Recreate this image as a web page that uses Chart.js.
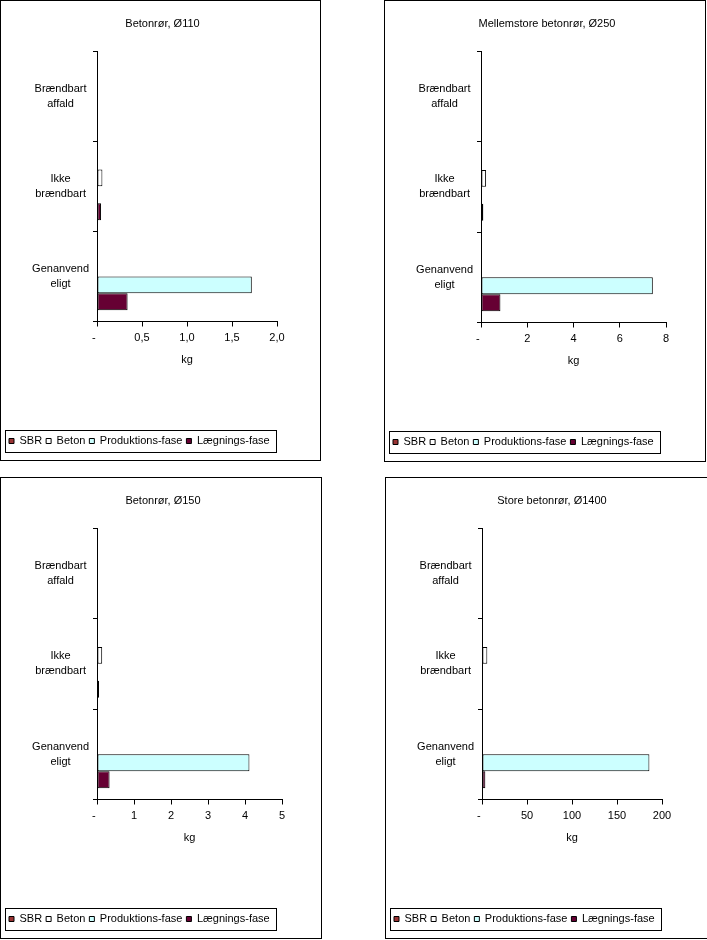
<!DOCTYPE html>
<html>
<head>
<meta charset="utf-8">
<script src="https://cdn.jsdelivr.net/npm/chart.js@4.4.1/dist/chart.umd.min.js"></script>
<style>
  body { margin:0; background:#fff; width:707px; height:940px; overflow:hidden; position:relative; }
  .panel { position:absolute; border:1px solid #000; box-sizing:border-box; background:#fff; }
  #p1 { left:0; top:0; width:321px; height:461px; }
  #p2 { left:384px; top:0; width:322px; height:462px; }
  #p3 { left:0; top:477px; width:322px; height:462px; }
  #p4 { left:385px; top:477px; width:330px; height:462px; }
  canvas { display:block; }
</style>
</head>
<body>
<div class="panel" id="p1"><canvas id="c1" width="319" height="459"></canvas></div>
<div class="panel" id="p2"><canvas id="c2" width="320" height="460"></canvas></div>
<div class="panel" id="p3"><canvas id="c3" width="320" height="460"></canvas></div>
<div class="panel" id="p4"><canvas id="c4" width="328" height="460"></canvas></div>
<script>
// categories and series
const categories = [['Brændbart','affald'], ['Ikke','brændbart'], ['Genanvend','eligt']];
const seriesNames = ['SBR', 'Beton', 'Produktions-fase', 'Lægnings-fase'];

// Betonrør, Ø110
const sbr110   = [0, 0, 0];
const beton110 = [0, 0.06, 0];
const prod110  = [0, 0, 1.72];
const laeg110  = [0, 0.045, 0.34];

// Mellemstore betonrør, Ø250
const sbr250   = [0, 0, 0];
const beton250 = [0, 0.22, 0];
const prod250  = [0, 0, 7.43];
const laeg250  = [0, 0.1, 0.84];

// Betonrør, Ø150
const sbr150   = [0, 0, 0];
const beton150 = [0, 0.14, 0];
const prod150  = [0, 0, 4.12];
const laeg150  = [0, 0.055, 0.34];

// Store betonrør, Ø1400
const sbr1400   = [0, 0, 0];
const beton1400 = [0, 5.9, 0];
const prod1400  = [0, 0, 186];
const laeg1400  = [0, 0, 3.7];

// x axis ranges
const axisMax  = [2, 8, 5, 200];
const axisStep = [0.5, 2, 1, 50];
const axisDec  = [1, 0, 0, 0];

const colors = ['#993333', '#ffffff', '#ccffff', '#660033'];
const FONT = 'Liberation Sans, Arial, sans-serif';

// Excel style frame round the legend
const legendFrame = {
  id: 'legendFrame',
  afterDraw(chart){
    const hb = chart.legend.legendHitBoxes;
    if(!hb || !hb.length) return;
    const last = hb[hb.length-1];
    const x1 = Math.round(hb[0].left - 4) + 0.5;
    const x2 = Math.round(last.left + last.width + 6) + 0.5;
    const y1 = Math.round(hb[0].top - 5.5) + 0.5;
    const ctx = chart.ctx;
    ctx.save();
    ctx.strokeStyle = '#000';
    ctx.lineWidth = 1;
    ctx.strokeRect(x1, y1, x2 - x1, 22);
    ctx.restore();
  }
};

function makeChart(id, title, series, idx, gapRight){
  new Chart(document.getElementById(id), {
    type: 'bar',
    data: {
      labels: categories,
      datasets: series.map((s, i) => ({
        label: seriesNames[i],
        data: s,
        backgroundColor: colors[i],
        borderColor: '#000',
        borderWidth: 1,
        borderSkipped: false,
        inflateAmount: 0,
        categoryPercentage: 0.75,
        barPercentage: 1
      }))
    },
    options: {
      indexAxis: 'y',
      responsive: false,
      animation: false,
      events: [],
      layout: { padding: { left: 4, right: 0, top: 0, bottom: 3.5 } },
      plugins: {
        title: {
          display: true, text: title, color: '#000',
          font: { family: FONT, size: 11, weight: 'normal' },
          padding: { top: 16, bottom: 21 }
        },
        legend: {
          position: 'bottom', align: 'start',
          labels: {
            color: '#000', boxWidth: 5, boxHeight: 5, padding: 4,
            font: { family: FONT, size: 11 }
          }
        },
        tooltip: { enabled: false }
      },
      scales: {
        x: {
          min: 0, max: axisMax[idx],
          afterFit(scale){ scale.height = 110; },
          ticks: {
            stepSize: axisStep[idx], color: '#000', padding: 5,
            font: { family: FONT, size: 11 },
            callback: v => v === 0 ? '-  ' : v.toFixed(axisDec[idx]).replace('.', ',')
          },
          grid: { drawOnChartArea: false, drawTicks: true, tickLength: 5, color: '#000' },
          border: { display: true, color: '#000' },
          title: {
            display: true, text: 'kg', color: '#000',
            font: { family: FONT, size: 11 },
            padding: { top: 0, bottom: 65 }
          }
        },
        y: {
          afterFit(scale){ scale.width = 92; },
          ticks: {
            color: '#000', padding: 4, crossAlign: 'center',
            font: { family: FONT, size: 11, lineHeight: 1.36 }
          },
          grid: { drawOnChartArea: false, drawTicks: true, tickLength: 4, color: '#000', offset: true },
          border: { display: true, color: '#000' }
        },
        // empty right axis only keeps the blank margin right of the plot
        yGap: {
          type: 'linear', position: 'right',
          afterFit(scale){ scale.width = gapRight; },
          ticks: { display: false },
          grid: { display: false },
          border: { display: false }
        }
      }
    },
    plugins: [legendFrame]
  });
}

makeChart('c1', 'Betonrør, Ø110', [sbr110, beton110, prod110, laeg110], 0, 43);
makeChart('c2', 'Mellemstore betonrør, Ø250', [sbr250, beton250, prod250, laeg250], 1, 39);
makeChart('c3', 'Betonrør, Ø150', [sbr150, beton150, prod150, laeg150], 2, 39);
makeChart('c4', 'Store betonrør, Ø1400', [sbr1400, beton1400, prod1400, laeg1400], 3, 52);
</script>
</body>
</html>
